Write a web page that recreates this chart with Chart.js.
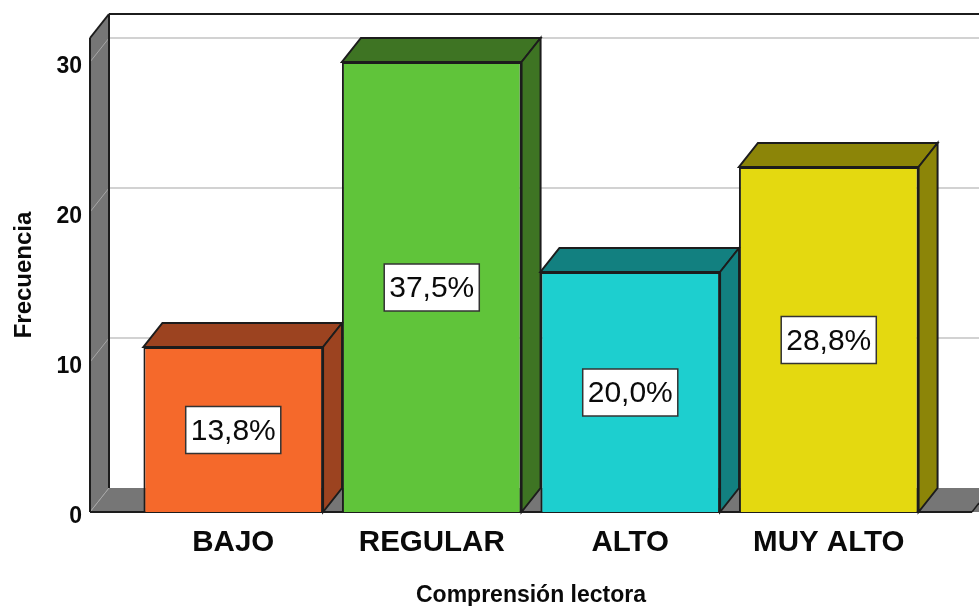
<!DOCTYPE html>
<html>
<head>
<meta charset="utf-8">
<title>Comprensión lectora</title>
<script src="https://cdn.jsdelivr.net/npm/chart.js@4/dist/chart.umd.min.js"></script>
<style>
    html, body { margin: 0; padding: 0; background: #ffffff; }
    canvas { display: block; }
</style>
</head>
<body>
<canvas id="freqChart" width="979" height="606"></canvas>
<script>
const categories = ['BAJO', 'REGULAR', 'ALTO', 'MUY ALTO'];
const frequencies = [11, 30, 16, 23];
const percentLabels = ['13,8%', '37,5%', '20,0%', '28,8%'];
const yTicks = [0, 10, 20, 30];

const frontColors = ['#f5692b', '#60c43a', '#1dcfcf', '#e4d910'];
const sideColors = ['#9c4320', '#3e7423', '#128080', '#8c8508'];

const WALL = '#767676';
const GRID = '#d2d2d2';
const EDGE = '#1c1c1c';
const TEXT = '#0a0a0a';
const DEPTH_X = 19;
const DEPTH_Y = 24;
const WALL_X = 44;
const FONT = '"Liberation Sans", Arial, sans-serif';

function polygon(ctx, pts, fill, stroke, lineWidth) {
    ctx.beginPath();
    pts.forEach((p, i) => i ? ctx.lineTo(p[0], p[1]) : ctx.moveTo(p[0], p[1]));
    ctx.closePath();
    ctx.fillStyle = fill;
    ctx.fill();
    if (stroke) {
        ctx.strokeStyle = stroke;
        ctx.lineWidth = lineWidth;
        ctx.lineJoin = 'miter';
        ctx.stroke();
    }
}

function line(ctx, x1, y1, x2, y2, color, width) {
    ctx.beginPath();
    ctx.moveTo(x1, y1);
    ctx.lineTo(x2, y2);
    ctx.strokeStyle = color;
    ctx.lineWidth = width;
    ctx.stroke();
}

// back wall, side wall, floor and the depth faces of the bars
const depthPlugin = {
    id: 'depth',
    beforeDatasetsDraw(chart) {
        const ctx = chart.ctx;
        const yScale = chart.scales.y;
        const area = chart.chartArea;
        const frontX = area.left - WALL_X;
        const backX = frontX + DEPTH_X;
        const front0 = yScale.getPixelForValue(0);
        const w = chart.width;
        ctx.save();

        yTicks.slice(1).forEach(v => {
            const y = yScale.getPixelForValue(v) - DEPTH_Y;
            line(ctx, backX, y, w, y, GRID, 2);
        });
        line(ctx, backX, area.top - DEPTH_Y, w, area.top - DEPTH_Y, EDGE, 2);

        polygon(ctx, [[frontX, front0], [backX, front0 - DEPTH_Y], [w + DEPTH_X, front0 - DEPTH_Y], [w, front0]], WALL);
        polygon(ctx, [[frontX, area.top], [backX, area.top - DEPTH_Y], [backX, front0 - DEPTH_Y], [frontX, front0]], WALL);

        yTicks.forEach(v => {
            const y = yScale.getPixelForValue(v);
            line(ctx, frontX, y, backX, y - DEPTH_Y, '#a6a6a6', 1);
        });

        line(ctx, backX, area.top - DEPTH_Y, backX, front0 - DEPTH_Y, EDGE, 2);
        line(ctx, frontX, area.top, frontX, front0, EDGE, 2);
        line(ctx, frontX, area.top, backX, area.top - DEPTH_Y, EDGE, 2);
        line(ctx, frontX, front0, w - 7, front0, EDGE, 2);
        line(ctx, w - 7, front0, w, front0 - 9, EDGE, 1.5);

        chart.getDatasetMeta(0).data.forEach((bar, i) => {
            const left = bar.x - bar.width / 2;
            const right = bar.x + bar.width / 2;
            polygon(ctx, [[left, bar.y], [right, bar.y], [right + DEPTH_X, bar.y - DEPTH_Y], [left + DEPTH_X, bar.y - DEPTH_Y]], sideColors[i], EDGE, 2);
            polygon(ctx, [[right, bar.y], [right + DEPTH_X, bar.y - DEPTH_Y], [right + DEPTH_X, bar.base - DEPTH_Y], [right, bar.base]], sideColors[i], EDGE, 2);
        });
        ctx.restore();
    },
    afterDatasetsDraw(chart) {
        const ctx = chart.ctx;
        ctx.save();
        ctx.font = '30px ' + FONT;
        ctx.textAlign = 'center';
        ctx.textBaseline = 'middle';
        chart.getDatasetMeta(0).data.forEach((bar, i) => {
            const cy = (bar.y + bar.base) / 2 + 1;
            const boxW = ctx.measureText(percentLabels[i]).width + 10;
            ctx.fillStyle = '#ffffff';
            ctx.fillRect(bar.x - boxW / 2, cy - 24, boxW, 47);
            ctx.strokeStyle = '#333333';
            ctx.lineWidth = 1.5;
            ctx.strokeRect(bar.x - boxW / 2, cy - 24, boxW, 47);
            ctx.fillStyle = TEXT;
            ctx.fillText(percentLabels[i], bar.x, cy + 1);
        });
        ctx.restore();
    }
};

const ctx = document.getElementById('freqChart').getContext('2d');
new Chart(ctx, {
    type: 'bar',
    data: {
        labels: categories,
        datasets: [{
            data: frequencies,
            backgroundColor: frontColors,
            borderColor: EDGE,
            borderWidth: 2,
            barPercentage: 0.905,
            categoryPercentage: 1
        }]
    },
    options: {
        responsive: false,
        animation: false,
        layout: {
            padding: { left: 10, right: 51, top: 38, bottom: 0 }
        },
        plugins: {
            legend: { display: false },
            tooltip: { enabled: false }
        },
        scales: {
            x: {
                grid: { display: false },
                border: { display: false },
                ticks: {
                    color: TEXT,
                    padding: 5,
                    maxRotation: 0,
                    font: { family: FONT, size: 29.5, weight: 'bold' }
                },
                title: {
                    display: true,
                    text: 'Comprensión lectora',
                    color: TEXT,
                    padding: { top: 0, bottom: -3 },
                    font: { family: FONT, size: 23, weight: 'bold' }
                },
                afterFit(scale) {
                    scale.height = 94;
                    scale.paddingLeft = 0;
                    scale.paddingRight = 0;
                }
            },
            y: {
                min: 0,
                max: 31.6,
                grid: { display: false },
                border: { display: false },
                ticks: {
                    color: TEXT,
                    padding: 44,
                    labelOffset: 5,
                    stepSize: 10,
                    includeBounds: false,
                    font: { family: FONT, size: 23, weight: 'bold' }
                },
                title: {
                    display: true,
                    text: 'Frecuencia',
                    color: TEXT,
                    padding: { top: 0, bottom: 0 },
                    font: { family: FONT, size: 24, weight: 'bold' }
                },
                afterFit(scale) {
                    scale.width = 124;
                    scale.paddingTop = 0;
                    scale.paddingBottom = 0;
                }
            }
        }
    },
    plugins: [depthPlugin]
});
</script>
</body>
</html>
